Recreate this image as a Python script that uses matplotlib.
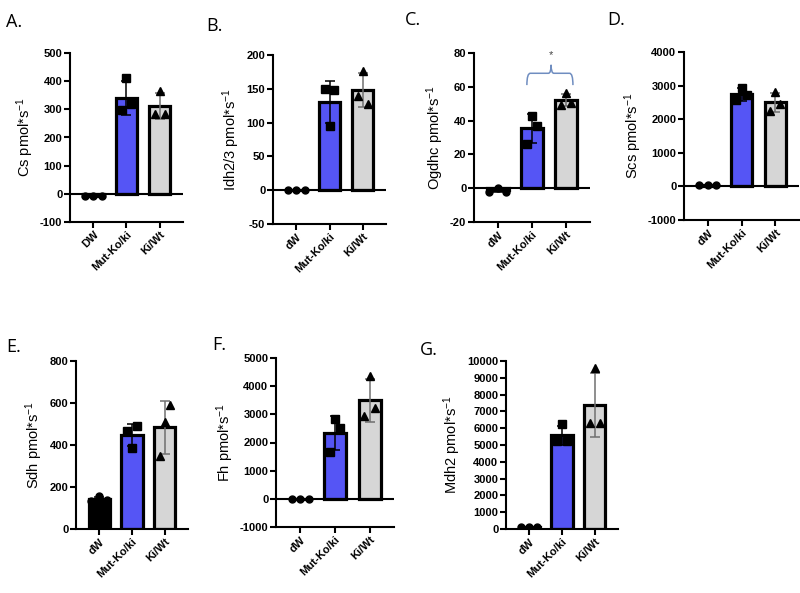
import matplotlib
matplotlib.use("Agg")
import matplotlib.pyplot as plt
import numpy as np
from matplotlib.path import Path
from matplotlib.patches import PathPatch

plt.rcParams['font.family'] = ['Liberation Sans', 'DejaVu Sans']
plt.rcParams['mathtext.default'] = 'regular'
plt.rcParams['axes.unicode_minus'] = False

groups_A = ["DW", "Mut-Ko/ki", "Ki/Wt"]
groups = ["dW", "Mut-Ko/ki", "Ki/Wt"]

# Replicate values per panel (dW, Mut-Ko/ki, Ki/Wt)
cs_dw = [-8, -8, -8];        cs_mut = [297, 410, 318];     cs_ki = [285, 364, 285]
idh_dw = [0, 0, 0];          idh_mut = [150, 95, 148];     idh_ki = [139, 176, 128]
ogd_dw = [-2, 0, -2];        ogd_mut = [26, 43, 37];       ogd_ki = [49.5, 56.5, 50.5]
scs_dw = [30, 30, 30];       scs_mut = [2560, 2930, 2720]; scs_ki = [2250, 2800, 2450]
sdh_dw = [132, 155, 140];    sdh_mut = [468, 388, 490];    sdh_ki = [348, 511, 592]
fh_dw = [10, 10, 10];        fh_mut = [1680, 2830, 2525];  fh_ki = [2930, 4370, 3220]
mdh_dw = [100, 100, 100];    mdh_mut = [5240, 6230, 5240]; mdh_ki = [6290, 9560, 6310]

ylabels = ["Cs", "Idh2/3", "Ogdhc", "Scs", "Sdh", "Fh", "Mdh2"]
letters = ["A.", "B.", "C.", "D.", "E.", "F.", "G."]
yticks = [np.arange(-100, 501, 100), np.arange(-50, 201, 50), np.arange(-20, 81, 20),
          np.arange(-1000, 4001, 1000), np.arange(0, 801, 200),
          np.arange(-1000, 5001, 1000), np.arange(0, 10001, 1000)]

data = [(cs_dw, cs_mut, cs_ki), (idh_dw, idh_mut, idh_ki), (ogd_dw, ogd_mut, ogd_ki),
        (scs_dw, scs_mut, scs_ki), (sdh_dw, sdh_mut, sdh_ki), (fh_dw, fh_mut, fh_ki),
        (mdh_dw, mdh_mut, mdh_ki)]

W, H = 800, 593
# axes pixel boxes: left, top, right, bottom
boxes = [(70, 53, 183, 222), (273, 55, 386, 224), (474, 53, 590, 222), (684, 52, 799, 220),
         (76, 361, 188, 529), (276, 358, 394, 527), (506, 361, 618, 529)]
letter_pos = [(6, 22), (206, 26), (405, 20), (607, 20), (6, 347), (212, 345), (420, 350)]

bar_colors = ["black", "#5555F5", "#D6D6D6"]
err_colors = ["black", "black", "#707070"]
markers = ["o", "s", "^"]
offsets = [[-0.25, 0, 0.25], [-0.15, 0, 0.15], [-0.15, 0, 0.15]]

fig = plt.figure(figsize=(W / 100, H / 100), dpi=100)

for i in range(7):
    l, t, r, b = boxes[i]
    ax = fig.add_axes([l / W, 1 - b / H, (r - l) / W, (b - t) / H])
    yt = yticks[i]
    labels = groups_A if i == 0 else groups
    for g in range(3):
        vals = np.array(data[i][g], dtype=float)
        m = vals.mean()
        sd = vals.std(ddof=1)
        ax.bar(g, m, width=0.64, color=bar_colors[g], edgecolor="black", linewidth=2.3, zorder=2)
        ax.errorbar(g, m, yerr=sd, color=err_colors[g], capsize=3.5, elinewidth=1.1,
                    capthick=1.1, zorder=3)
        ax.plot(g + np.array(offsets[g]), vals, linestyle="none", marker=markers[g],
                color="black", markersize=5.5 if g else 5, zorder=4)
    ax.set_xlim(-0.7, 2.7)
    ax.set_ylim(yt[0], yt[-1])
    ax.set_yticks(yt)
    ax.set_xticks(range(3))
    ax.set_xticklabels(labels, rotation=45, ha="right", rotation_mode="anchor",
                       fontweight="bold", fontsize=8)
    for lab in ax.get_yticklabels():
        lab.set_fontweight("bold")
        lab.set_fontsize(8)
    ax.spines["top"].set_visible(False)
    ax.spines["right"].set_visible(False)
    ax.spines["left"].set_linewidth(1.5)
    ax.spines["bottom"].set_linewidth(1.5)
    ax.tick_params(width=1.5, length=4, pad=1.5)
    if yt[0] < 0:
        ax.axhline(0, color="black", linewidth=1.5, zorder=5)
    ax.set_ylabel(ylabels[i] + " pmol*s$^{-1}$", fontsize=10.5, labelpad=3)
    fig.text(letter_pos[i][0] / W, 1 - letter_pos[i][1] / H, letters[i], fontsize=13,
             family="Open Sans", va="center", ha="left")
    if i == 2:
        # curly brace between Mut-Ko/ki and Ki/Wt
        x0, x1 = 0.85, 2.2
        xm = 1.56
        y0, yf, ytip = 61, 68, 73
        verts = [(x0, y0), (x0, yf), (x0 + 0.1, yf),
                 (xm - 0.08, yf), (xm, yf), (xm, ytip),
                 (xm, yf), (xm + 0.08, yf),
                 (x1 - 0.1, yf), (x1, yf), (x1, y0)]
        codes = [Path.MOVETO, Path.CURVE3, Path.CURVE3,
                 Path.LINETO, Path.CURVE3, Path.CURVE3,
                 Path.CURVE3, Path.CURVE3,
                 Path.LINETO, Path.CURVE3, Path.CURVE3]
        ax.add_patch(PathPatch(Path(verts, codes), facecolor="none", edgecolor="#6F8DC0",
                               linewidth=1.1, clip_on=False))
        ax.text(xm, 79, "*", ha="center", va="center", fontsize=8, color="#444444")

fig.savefig("out.png", dpi=100)
